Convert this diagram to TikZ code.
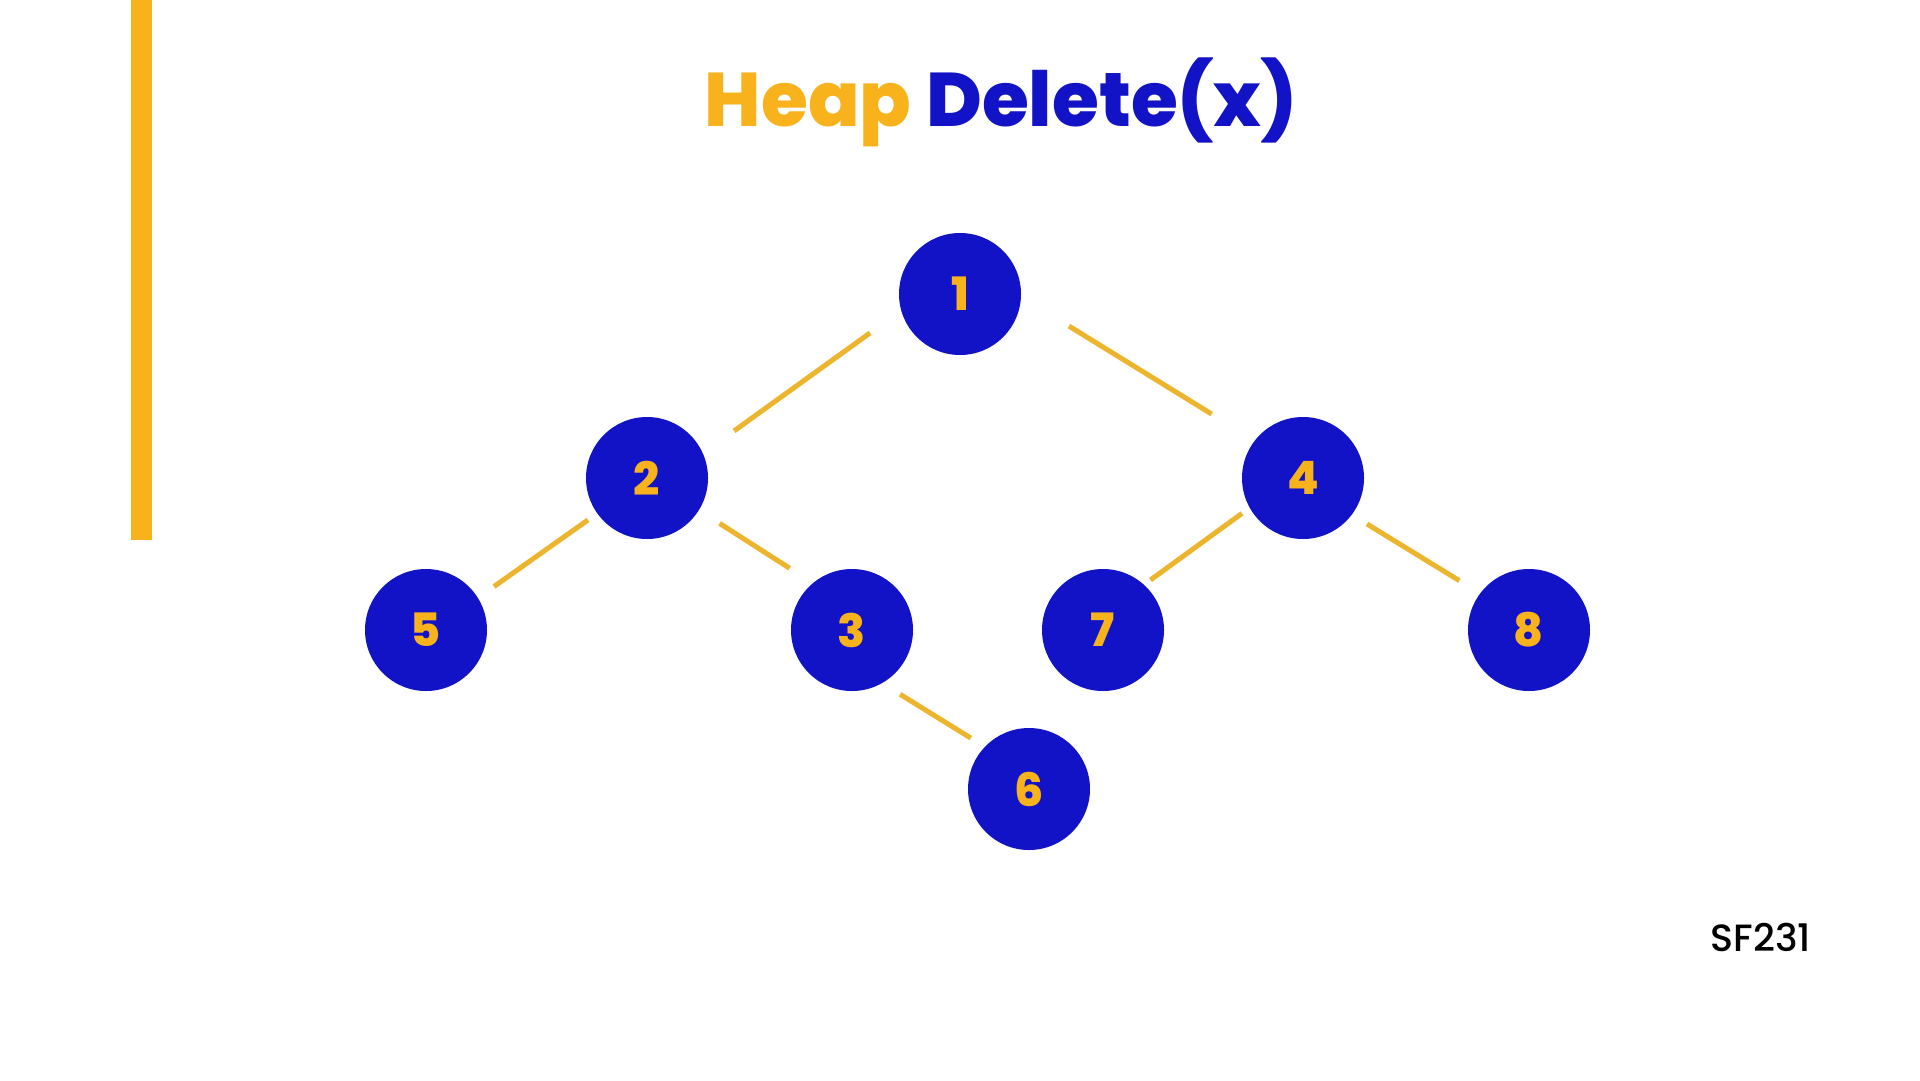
\documentclass[tikz,border=0pt]{standalone}
\usepackage{fontspec}
\setmainfont{Poppins}
\newfontfamily\heavyfont{Poppins}[UprightFont=* ExtraBold]
\usetikzlibrary{positioning}
\definecolor{heapgold}{HTML}{F8B21C}
\definecolor{heapblue}{HTML}{1212C6}
\definecolor{edgegold}{HTML}{EDB52E}
\tikzset{
	heapnode/.style={circle,fill=heapblue,minimum size=122pt,inner sep=0pt,text=heapgold,font=\heavyfont\fontsize{46}{46}\selectfont},
	heapedge/.style={draw=edgegold,line width=5pt}
}
\begin{document}
\begin{tikzpicture}[x=1pt,y=-1pt]
	\useasboundingbox[fill=white] (0,0) rectangle (1920,1080);
	\fill[heapgold] (131,0) rectangle (152,540);
	\node (title) at (1001,102) {\heavyfont\fontsize{76}{76}\selectfont\textcolor{heapgold}{Heap} \textcolor{heapblue}{Delete(x)}};
	\node (n1) [heapnode] at (960,294) {1};
	\node (n2) [heapnode] at (647,478) {2};
	\node (n4) [heapnode] at (1303,478) {4};
	\node (n5) [heapnode] at (426,630) {5};
	\node (n3) [heapnode] at (852,630) {3};
	\node (n7) [heapnode] at (1103,630) {7};
	\node (n8) [heapnode] at (1529,630) {8};
	\node (n6) [heapnode] at (1029,789) {6};
	\draw[heapedge] ([shift={(203.4:98pt)}]n1.center) -- ([shift={(28.4:99pt)}]n2.center);
	\draw[heapedge] ([shift={(343.6:113.6pt)}]n1.center) -- ([shift={(145:111.5pt)}]n4.center);
	\draw[heapedge] ([shift={(215.4:72.4pt)}]n2.center) -- ([shift={(32.6:80.7pt)}]n5.center);
	\draw[heapedge] ([shift={(328:85.6pt)}]n2.center) -- ([shift={(135.3:87.8pt)}]n3.center);
	\draw[heapedge] ([shift={(306.8:80.3pt)}]n3.center) -- ([shift={(138.8:77.4pt)}]n6.center);
	\draw[heapedge] ([shift={(210.1:70.5pt)}]n4.center) -- ([shift={(46.5:69pt)}]n7.center);
	\draw[heapedge] ([shift={(324.3:78.8pt)}]n4.center) -- ([shift={(144.7:85.4pt)}]n8.center);
	\node (course) at (1761,937) {\fontspec{Poppins Medium}\fontsize{38}{38}\selectfont SF231};
\end{tikzpicture}
\end{document}
